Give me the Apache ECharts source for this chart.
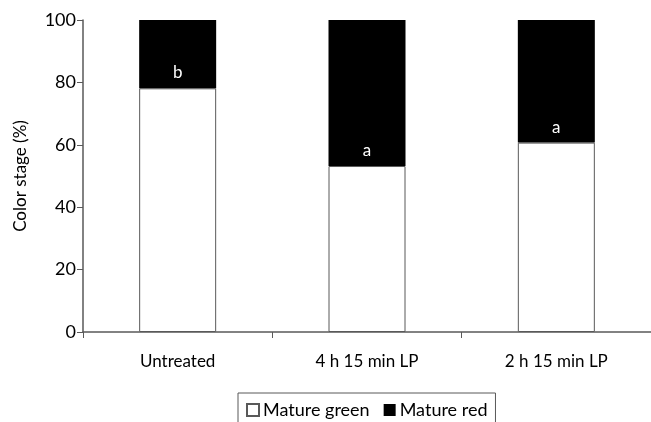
<!DOCTYPE html>
<html>
<head>
<meta charset="utf-8">
<script src="https://cdn.jsdelivr.net/npm/echarts@6/dist/echarts.min.js"></script>
<style>html,body{margin:0;padding:0;background:#fff}#c{width:651px;height:422px}</style>
</head>
<body>
<div id="c"></div>
<script>
var categories = ['Untreated', '4 h 15 min LP', '2 h 15 min LP'];
var matureGreen = [78.1, 53.2, 60.7];
var matureRed = [21.9, 46.8, 39.3];
var letters = ['b', 'a', 'a'];
var yTicks = [0, 20, 40, 60, 80, 100];

var FONT = 'Lato';
var chart = echarts.init(document.getElementById('c'), null, {renderer: 'canvas'});
chart.setOption({
  animation: false,
  backgroundColor: '#fff',
  textStyle: {fontFamily: FONT},
  grid: {left: 83, top: 20, width: 570, height: 312, containLabel: false},
  legend: {
    left: 238, top: 393,
    padding: [8, 8, 8, 8],
    borderColor: '#595959', borderWidth: 1,
    itemWidth: 12, itemHeight: 12, itemGap: 14,
    icon: 'rect',
    textStyle: {fontFamily: FONT, fontSize: 18, color: '#000', padding: [0, 0, 0, -1]},
    data: ['Mature green', 'Mature red']
  },
  xAxis: {
    type: 'category', data: categories,
    axisLine: {lineStyle: {color: '#595959', width: 1.5}},
    axisTick: {show: true, length: 6, alignWithLabel: false, lineStyle: {color: '#595959'}},
    axisLabel: {fontFamily: FONT, fontSize: 17, color: '#000', margin: 21}
  },
  yAxis: {
    type: 'value', min: yTicks[0], max: yTicks[yTicks.length - 1], interval: 20,
    name: 'Color stage (%)', nameLocation: 'middle', nameGap: 54, nameRotate: 90,
    nameTextStyle: {fontFamily: FONT, fontSize: 17, color: '#000'},
    axisLine: {show: true, lineStyle: {color: '#595959', width: 1.5}},
    axisTick: {show: true, length: 6, lineStyle: {color: '#595959'}},
    splitLine: {show: false},
    axisLabel: {fontFamily: FONT, fontSize: 18, color: '#000', margin: 7}
  },
  series: [
    {
      name: 'Mature green', type: 'bar', stack: 's', barWidth: 77,
      data: matureGreen,
      itemStyle: {color: '#fff', borderColor: '#595959', borderWidth: 1}
    },
    {
      name: 'Mature red', type: 'bar', stack: 's', barWidth: 77,
      data: matureRed,
      itemStyle: {color: '#000', borderColor: '#000', borderWidth: 0},
      label: {
        show: true, position: 'insideBottom', distance: 7,
        color: '#fff', fontFamily: FONT, fontSize: 17,
        formatter: function (p) { return letters[p.dataIndex]; }
      }
    }
  ]
});
</script>
</body>
</html>
